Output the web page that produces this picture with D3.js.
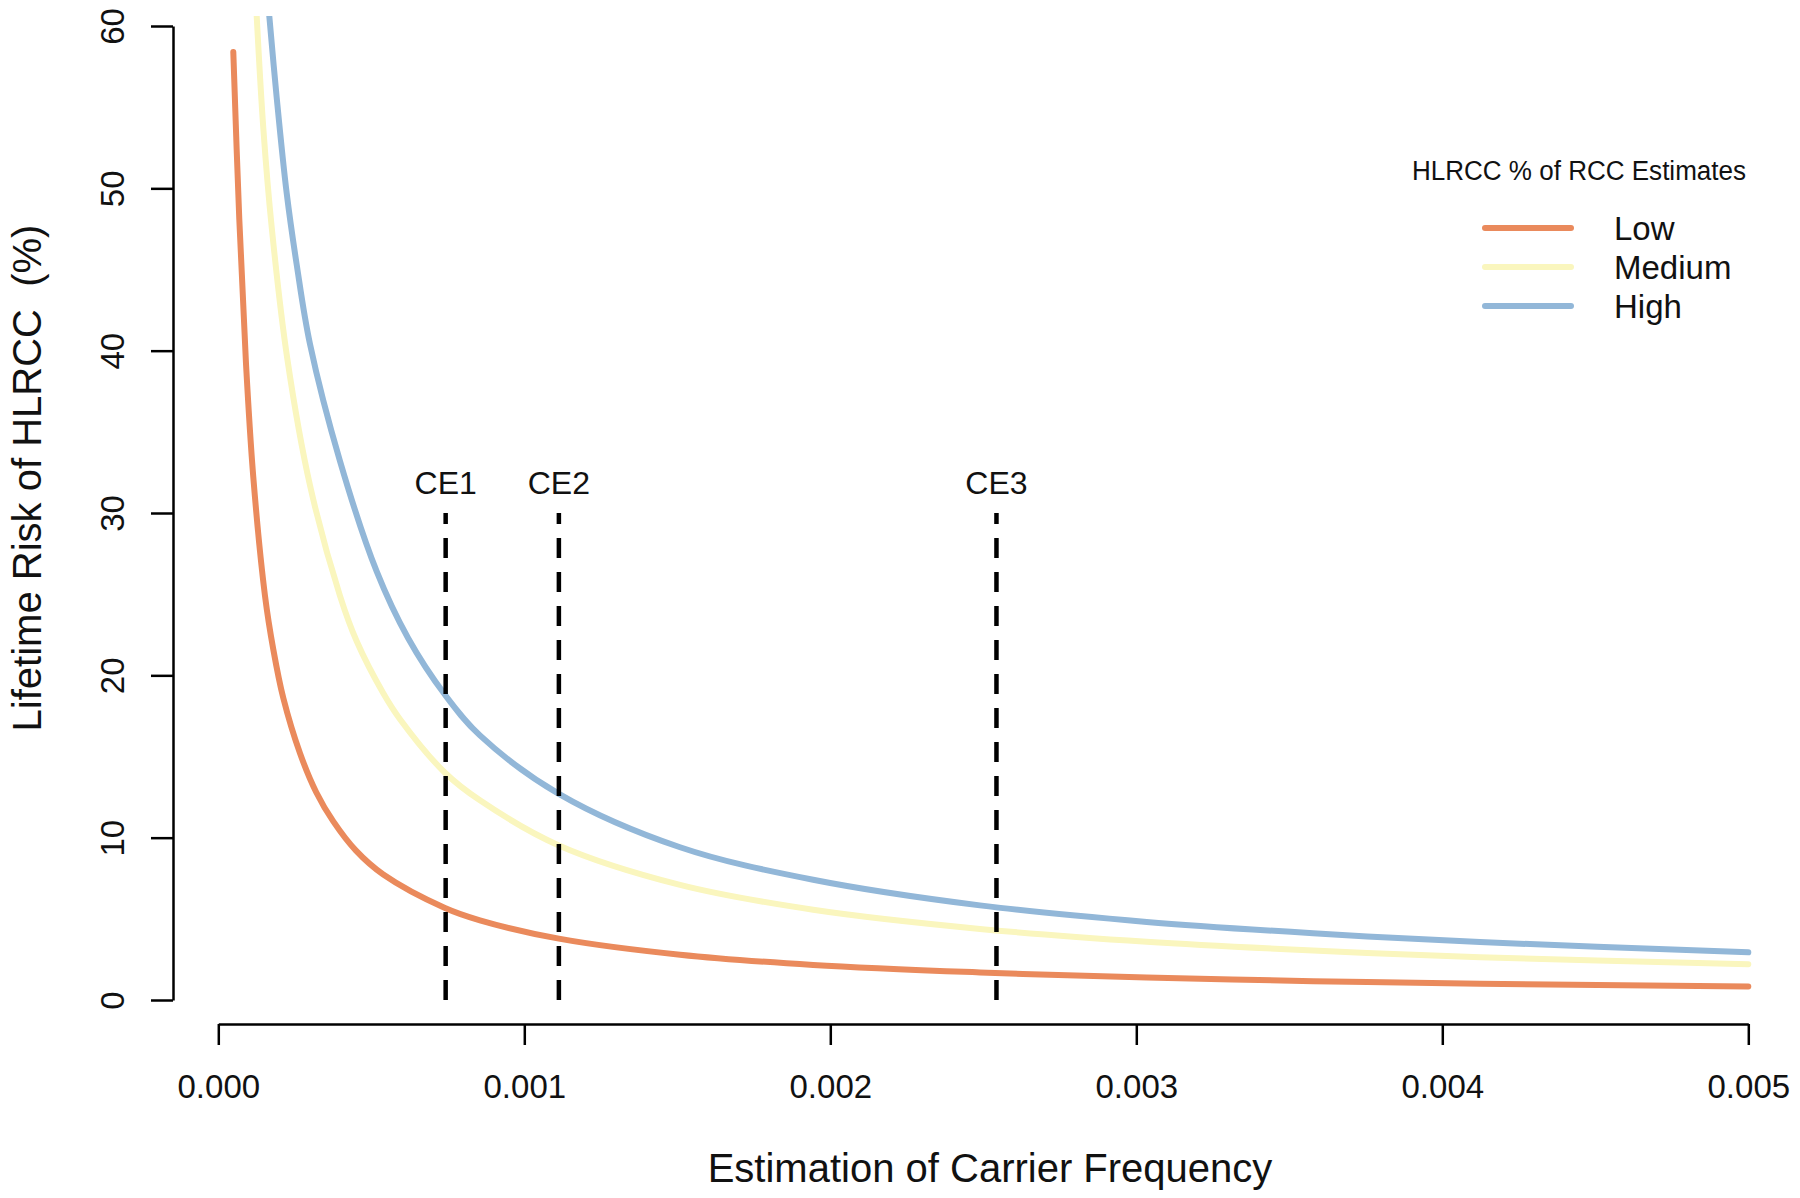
<!DOCTYPE html>
<html>
<head>
<meta charset="utf-8">
<script src="https://cdn.jsdelivr.net/npm/d3@7"></script>
<style>
  html, body { margin: 0; padding: 0; background: #fff; }
  svg { display: block; }
  text { font-family: "Liberation Sans", Arial, sans-serif; fill: #111; white-space: pre; }
</style>
</head>
<body>
<svg id="chart" width="1800" height="1198"></svg>
<script>
// ---------- data ----------
const seriesNames = ["Low", "Medium", "High"];
const seriesColors = ["#EA8A5C", "#FAF6BE", "#92B7D8"];

const lowX  = [0.000049, 0.0000686, 0.0000905, 0.0001144, 0.0001526, 0.0001797, 0.0002124, 0.000267, 0.00032, 0.0003758, 0.00045, 0.0005392, 0.0007408, 0.000855, 0.001113, 0.001509, 0.001944, 0.002489, 0.003034, 0.003578, 0.004123, 0.005];
const lowY  = [58.4, 48.1, 39.2, 32.2, 24.9, 21.6, 18.6, 15.2, 12.8, 11.0, 9.2, 7.73, 5.67, 4.91, 3.78, 2.79, 2.16, 1.70, 1.38, 1.16, 1.00, 0.83];

const medX  = [0.0001255, 0.0001471, 0.0001745, 0.0002255, 0.0002997, 0.0003977, 0.0004523, 0.0005392, 0.0005938, 0.0007408, 0.000855, 0.001113, 0.001509, 0.001944, 0.002489, 0.003034, 0.003578, 0.004123, 0.005];
const medY  = [60.6, 53.7, 47.6, 39.5, 31.7, 24.9, 22.1, 18.9, 17.3, 14.0, 12.3, 9.52, 7.09, 5.56, 4.38, 3.59, 3.05, 2.64, 2.20];

const highX = [0.0001667, 0.0001908, 0.0002235, 0.0002562, 0.0002997, 0.0003977, 0.0005176, 0.00062, 0.0007408, 0.000855, 0.001113, 0.001509, 0.001944, 0.002489, 0.003034, 0.003578, 0.004123, 0.005];
const highY = [60.6, 55.6, 49.7, 45.3, 40.4, 33.2, 26.4, 22.3, 18.8, 16.3, 12.7, 9.41, 7.41, 5.83, 4.81, 4.11, 3.57, 2.94];

const ceLabels = ["CE1", "CE2", "CE3"];
const ceX = [0.000743, 0.001113, 0.002543];
const ceTop = 30;

const xTicks = [0, 0.001, 0.002, 0.003, 0.004, 0.005];
const xTickLabels = ["0.000", "0.001", "0.002", "0.003", "0.004", "0.005"];
const yTicks = [0, 10, 20, 30, 40, 50, 60];

const xTitle = "Estimation of Carrier Frequency";
const yTitle = "Lifetime Risk of HLRCC  (%)";
const legendTitle = "HLRCC % of RCC Estimates";

// ---------- layout ----------
const svg = d3.select("#chart");
const x = d3.scaleLinear().domain([0, 0.005]).range([218.3, 1748.3]);
const y = d3.scaleLinear().domain([0, 60]).range([1000, 26]);

const series = [
  { name: seriesNames[0], color: seriesColors[0], pts: lowX.map((v, i) => [v, lowY[i]]) },
  { name: seriesNames[1], color: seriesColors[1], pts: medX.map((v, i) => [v, medY[i]]) },
  { name: seriesNames[2], color: seriesColors[2], pts: highX.map((v, i) => [v, highY[i]]) }
];

svg.append("defs").append("clipPath").attr("id", "plotclip")
  .append("rect").attr("x", 175).attr("y", 16).attr("width", 1620).attr("height", 1000);

// curves
const line = d3.line().x(d => x(d[0])).y(d => y(d[1])).curve(d3.curveCatmullRom.alpha(0.5));
const g = svg.append("g").attr("clip-path", "url(#plotclip)");
g.selectAll("path.series").data(series).enter().append("path")
  .attr("class", "series")
  .attr("d", d => line(d.pts))
  .attr("fill", "none")
  .attr("stroke", d => d.color)
  .attr("stroke-width", 6)
  .attr("stroke-linecap", "round")
  .attr("stroke-linejoin", "round");

// CE dashed lines
const ceG = svg.append("g");
ceX.forEach((cx, i) => {
  ceG.append("line")
    .attr("x1", x(cx)).attr("x2", x(cx))
    .attr("y1", y(0)).attr("y2", y(ceTop))
    .attr("stroke", "#000").attr("stroke-width", 4.5)
    .attr("stroke-dasharray", "20,14");
  ceG.append("text")
    .attr("x", x(cx)).attr("y", 494)
    .attr("text-anchor", "middle")
    .attr("font-size", 32)
    .text(ceLabels[i]);
});

// x axis
const xAxis = d3.axisBottom(x).tickValues(xTicks)
  .tickFormat((d, i) => xTickLabels[i]).tickSize(21).tickSizeOuter(0).tickPadding(30);
const xg = svg.append("g").attr("transform", "translate(0,1024)").call(xAxis);
xg.select(".domain").attr("stroke", "#000").attr("stroke-width", 2.5);
xg.selectAll(".tick line").attr("stroke", "#000").attr("stroke-width", 2.5);
xg.selectAll(".tick text").attr("font-size", 33).attr("fill", "#111")
  .attr("font-family", "'Liberation Sans', Arial, sans-serif");

// y axis
const yAxis = d3.axisLeft(y).tickValues(yTicks).tickSize(22).tickSizeOuter(0).tickPadding(0);
const yg = svg.append("g").attr("transform", "translate(173,0)").call(yAxis);
yg.select(".domain").attr("stroke", "#000").attr("stroke-width", 2.5);
yg.selectAll(".tick line").attr("stroke", "#000").attr("stroke-width", 2.5);
yg.selectAll(".tick text")
  .attr("font-size", 33).attr("fill", "#111")
  .attr("font-family", "'Liberation Sans', Arial, sans-serif")
  .attr("x", null).attr("dy", null)
  .attr("text-anchor", "middle")
  .attr("transform", "translate(-49,0) rotate(-90)");

// axis titles
svg.append("text")
  .attr("x", 990).attr("y", 1182)
  .attr("text-anchor", "middle")
  .attr("font-size", 40)
  .text(xTitle);
svg.append("text")
  .attr("transform", "translate(41,478) rotate(-90)")
  .attr("text-anchor", "middle")
  .attr("font-size", 40)
  .text(yTitle);

// legend
const leg = svg.append("g");
leg.append("text")
  .attr("x", 1412).attr("y", 180)
  .attr("font-family", "'Open Sans', 'Noto Sans', sans-serif")
  .attr("font-size", 27)
  .attr("textLength", 334)
  .attr("lengthAdjust", "spacingAndGlyphs")
  .text(legendTitle);
const legY = [228, 267, 306];
series.forEach((s, i) => {
  leg.append("line")
    .attr("x1", 1485).attr("x2", 1571)
    .attr("y1", legY[i]).attr("y2", legY[i])
    .attr("stroke", s.color).attr("stroke-width", 6)
    .attr("stroke-linecap", "round");
  leg.append("text")
    .attr("x", 1614).attr("y", legY[i] + 12)
    .attr("font-size", 33)
    .text(s.name);
});
</script>
</body>
</html>
